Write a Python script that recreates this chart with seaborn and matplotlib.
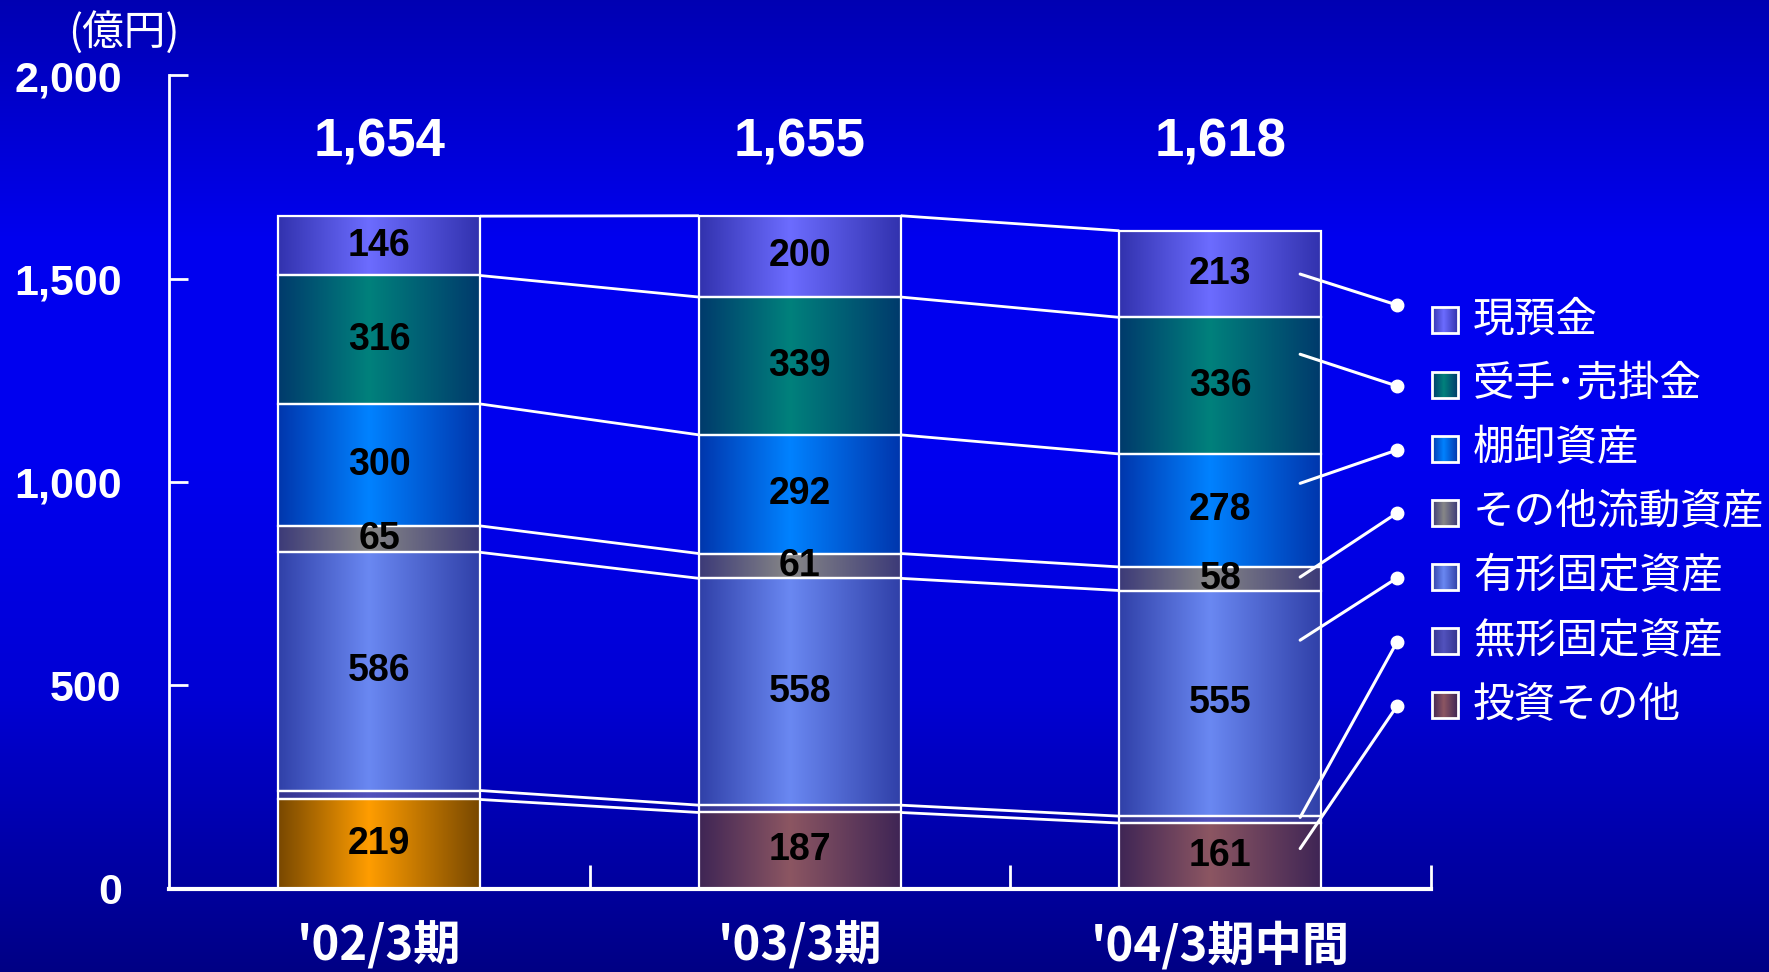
import numpy as np
import pandas as pd
import matplotlib
matplotlib.use("Agg")
import matplotlib.pyplot as plt
import seaborn as sns
from matplotlib.colors import to_rgb
from matplotlib.patches import Rectangle

sns.set_theme(style="white")
plt.rcParams['font.family'] = ['Liberation Sans', 'Noto Sans CJK JP', 'DejaVu Sans']
JP = ['Noto Sans CJK JP', 'DejaVu Sans']

# ---- data (億円) ----
categories = ["'02/3期", "'03/3期", "'04/3期中間"]
series_names = ["投資その他", "無形固定資産", "有形固定資産", "その他流動資産",
                "棚卸資産", "受手･売掛金", "現預金"]          # bottom -> top
investments = [219, 187, 161]
intangible = [22, 18, 17]
tangible = [586, 558, 555]
other_current = [65, 61, 58]
inventory = [300, 292, 278]
receivables = [316, 339, 336]
cash = [146, 200, 213]
totals = [1654, 1655, 1618]
yticks = [0, 500, 1000, 1500, 2000]

series_values = [investments, intangible, tangible, other_current,
                 inventory, receivables, cash]
show_label = [True, False, True, True, True, True, True]

# (edge colour, centre colour) of the horizontal shading of each series
shades = [("#3f2555", "#8c5662"),
          ("#33338f", "#5252bd"),
          ("#3040a8", "#6a88f2"),
          ("#3c3a78", "#878787"),
          ("#0036ad", "#0082ff"),
          ("#003a6c", "#00817c"),
          ("#3232ae", "#6c6cff")]
first_period_invest = ("#784800", "#ff9d00")

legend_order = [6, 5, 4, 3, 2, 1, 0]         # top -> bottom in the legend
leader_frac = [0.61, 0.82, 0.78, 0.57, 0.74, 0.73, 0.5]


def shade_strip(edge, centre, n=256):
    t = np.linspace(0, 1, n)
    w = np.where(t < 0.45, t / 0.45, (1 - t) / 0.55)
    e, c = np.array(to_rgb(edge)), np.array(to_rgb(centre))
    rgb = e[None, :] * (1 - w[:, None]) + c[None, :] * w[:, None]
    return rgb[None, :, :]


W, H = 1769, 972
fig = plt.figure(figsize=(W / 100, H / 100), dpi=100)

# background: vertical blue gradient
bg = fig.add_axes([0, 0, 1, 1], zorder=-10)
yy = np.linspace(0, 1, 400)
stops_y = [0.0, 0.25, 0.47, 0.72, 1.0]
stops_b = [0.70, 0.94, 0.94, 0.83, 0.52]
blue = np.interp(yy, stops_y, stops_b)
bg_img = np.zeros((400, 1, 3))
bg_img[:, 0, 2] = blue
bg.imshow(bg_img, aspect="auto", extent=[0, 1, 0, 1])
bg.axis("off")

left, right, bottom, top = 169 / W, 1430.5 / W, 1 - 888.5 / H, 1 - 75.5 / H
ax = fig.add_axes([left, bottom, right - left, top - bottom])
ax.set_facecolor("none")

bar_w = 0.48
bottoms = np.zeros(3)
cum_levels = []
for s, vals in enumerate(series_values):
    df = pd.DataFrame({"period": categories, "value": vals})
    n_before = len(ax.patches)
    sns.barplot(data=df, x="period", y="value", bottom=bottoms.copy(),
                width=bar_w, color=shades[s][1], edgecolor="white",
                linewidth=1.6, zorder=3, ax=ax, order=categories)
    for i, p in enumerate(ax.patches[n_before:]):
        x0, y0 = p.get_x(), p.get_y()
        pw, ph = p.get_width(), p.get_height()
        edge, centre = shades[s]
        if s == 0 and i == 0:
            edge, centre = first_period_invest
        ax.imshow(shade_strip(edge, centre), aspect="auto",
                  extent=[x0, x0 + pw, y0, y0 + ph], zorder=2,
                  interpolation="bilinear")
        p.set_facecolor("none")
        if show_label[s]:
            ax.text(i, y0 + ph / 2, f"{vals[i]:,}", ha="center", va="center",
                    fontsize=27, fontweight="bold", color="black", zorder=6)
    bottoms = bottoms + np.array(vals)
    cum_levels.append(bottoms.copy())

ax.set_xlim(-0.5, 2.5)
ax.set_ylim(0, 2000)

# lines joining the segment boundaries of neighbouring bars
for lev in cum_levels:
    for i in range(2):
        ax.plot([i + bar_w / 2, i + 1 - bar_w / 2], [lev[i], lev[i + 1]],
                color="white", lw=2, zorder=4, solid_capstyle="butt")

# totals above the bars
for i, tot in enumerate(totals):
    ax.text(i, 1835, f"{tot:,}", ha="center", va="center", fontsize=38,
            fontweight="bold", color="white", zorder=6)

# axes styling
for sp in ["top", "right"]:
    ax.spines[sp].set_visible(False)
ax.spines["left"].set_color("white")
ax.spines["left"].set_linewidth(2)
ax.spines["bottom"].set_color("white")
ax.spines["bottom"].set_linewidth(3)
ax.set_yticks(yticks)
ax.set_yticklabels([f"{v:,}" for v in yticks], fontsize=31,
                   fontweight="bold", color="white")
ax.tick_params(axis="y", direction="in", length=14, width=2, colors="white",
               pad=34, left=True)
ax.set_xticks(range(3))
ax.set_xticklabels(categories, fontsize=34, fontweight="bold", color="white",
                   family=JP)
ax.set_xticks([0.5, 1.5, 2.5], minor=True)
ax.tick_params(axis="x", which="major", length=0, pad=24, colors="white")
ax.tick_params(axis="x", which="minor", direction="in", length=17, width=2,
               colors="white", bottom=True)
ax.set_xlabel("")
ax.set_ylabel("")
ax.grid(False)

fig.text(124 / W, 1 - 32 / H, "(億円)", ha="center", va="center",
         fontsize=30, color="white", family=JP)

# legend with leader lines pointing into the last bar
ov = fig.add_axes([0, 0, 1, 1], zorder=5)
ov.set_xlim(0, W)
ov.set_ylim(H, 0)
ov.set_facecolor("none")
ov.axis("off")

row_y = [320, 385, 449, 513, 577, 641, 705]
dot_y = [305, 386, 450, 513, 578, 642, 706]
dot_x = 1397
sw_x, sw = 1432, 26
for r, s in enumerate(legend_order):
    y = row_y[r]
    ov.imshow(shade_strip(*shades[s]), aspect="auto",
              extent=[sw_x, sw_x + sw, y + sw / 2, y - sw / 2], zorder=6)
    ov.add_patch(Rectangle((sw_x, y - sw / 2), sw, sw, fill=False,
                           edgecolor="white", lw=2, zorder=7))
    ov.text(1473, y, series_names[s], ha="left", va="center", fontsize=30,
            color="white", family=JP, zorder=7)
    # leader line from inside the last bar to the dot
    seg_bottom = cum_levels[s][2] - series_values[s][2]
    y_start = seg_bottom + leader_frac[s] * series_values[s][2]
    ax.annotate("", xy=(2 + 0.19, y_start), xycoords="data",
                xytext=(dot_x, H - dot_y[r]), textcoords="figure pixels",
                arrowprops=dict(arrowstyle="-", color="white", lw=2.2,
                                shrinkA=0, shrinkB=0), zorder=7)
    ov.plot(dot_x, dot_y[r], "o", ms=9, color="white", zorder=8)
ov.set_xlim(0, W)
ov.set_ylim(H, 0)

fig.savefig("out.png", dpi=100)
